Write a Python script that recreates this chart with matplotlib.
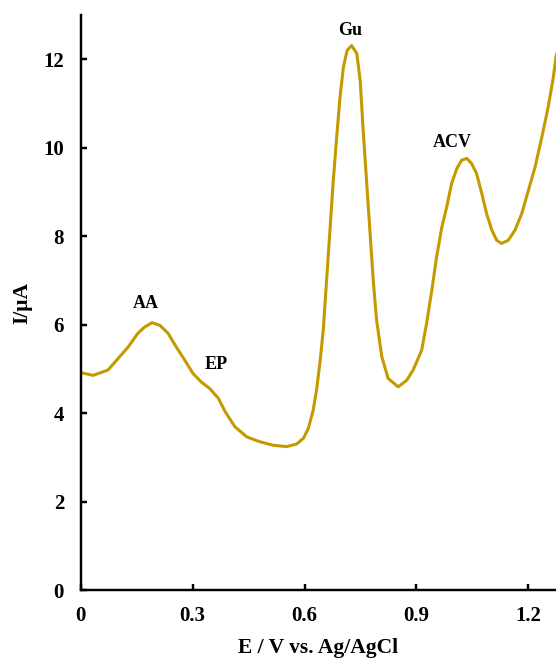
import numpy as np
import matplotlib
matplotlib.use('Agg')
import matplotlib.pyplot as plt

# Values (potential in V, current in uA)
potential = [0.000, 0.033, 0.073, 0.100, 0.127, 0.153, 0.171, 0.191, 0.212, 0.234,
             0.256, 0.279, 0.301, 0.323, 0.346, 0.369, 0.387, 0.413, 0.445, 0.480,
             0.516, 0.552, 0.579, 0.597, 0.610, 0.623, 0.632, 0.641, 0.650, 0.659,
             0.668, 0.677, 0.686, 0.695, 0.704, 0.714, 0.726, 0.740, 0.749, 0.757,
             0.766, 0.775, 0.784, 0.793, 0.807, 0.824, 0.851, 0.874, 0.891, 0.914,
             0.927, 0.941, 0.954, 0.968, 0.981, 0.994, 1.008, 1.021, 1.035, 1.048,
             1.061, 1.075, 1.088, 1.102, 1.115, 1.128, 1.146, 1.164, 1.182, 1.200,
             1.218, 1.236, 1.253, 1.267, 1.274, 1.285]
current = [4.92, 4.86, 4.98, 5.24, 5.50, 5.81, 5.95, 6.05, 5.99, 5.81,
           5.50, 5.20, 4.90, 4.71, 4.56, 4.34, 4.04, 3.70, 3.47, 3.36,
           3.28, 3.25, 3.31, 3.44, 3.66, 4.07, 4.53, 5.13, 5.88, 7.01,
           8.14, 9.27, 10.24, 11.15, 11.82, 12.20, 12.31, 12.13, 11.52, 10.40,
           9.27, 8.14, 7.01, 6.11, 5.28, 4.79, 4.60, 4.75, 4.98, 5.43,
           6.03, 6.78, 7.54, 8.21, 8.66, 9.19, 9.53, 9.72, 9.76, 9.64,
           9.42, 8.97, 8.51, 8.14, 7.91, 7.84, 7.91, 8.14, 8.51, 9.04,
           9.57, 10.24, 10.92, 11.60, 12.05, 12.45]

peak_names = ['AA', 'EP', 'Gu', 'ACV']
peak_label_x = [0.175, 0.362, 0.722, 0.995]
peak_label_y = [6.49, 5.11, 12.65, 10.12]

xticks = [0, 0.3, 0.6, 0.9, 1.2]
xtick_labels = ['0', '0.3', '0.6', '0.9', '1.2']
yticks = [0, 2, 4, 6, 8, 10, 12]

plt.rcParams['font.family'] = ['Liberation Serif', 'DejaVu Serif']
plt.rcParams['font.weight'] = 'bold'

fig = plt.figure(figsize=(5.56, 6.58), dpi=100)
ax = fig.add_axes([0.1453, 0.1026, 0.8547, 0.8746])

ax.plot(potential, current, color='#C49A00', linewidth=2.2,
        solid_joinstyle='round', solid_capstyle='round')

for name, tx, ty in zip(peak_names, peak_label_x, peak_label_y):
    ax.text(tx, ty, name, ha='center', va='center', fontsize=13, fontweight='bold')

ax.set_xlim(0, 1.274)
ax.set_ylim(0, 13)
ax.set_xticks(xticks)
ax.set_xticklabels(xtick_labels)
ax.set_yticks(yticks)

ax.spines['top'].set_visible(False)
ax.spines['right'].set_visible(False)
for s in ['left', 'bottom']:
    ax.spines[s].set_linewidth(1.75)
ax.tick_params(axis='both', direction='in', length=4.5, width=1.75, labelsize=15)
ax.tick_params(axis='x', pad=11)
ax.tick_params(axis='y', pad=12)

ax.set_xlabel('E / V vs. Ag/AgCl', fontsize=15.5, fontweight='bold', labelpad=9)
ax.set_ylabel('I/μA', fontsize=15.5, fontweight='bold', labelpad=8)

fig.savefig('out.png', dpi=100)
